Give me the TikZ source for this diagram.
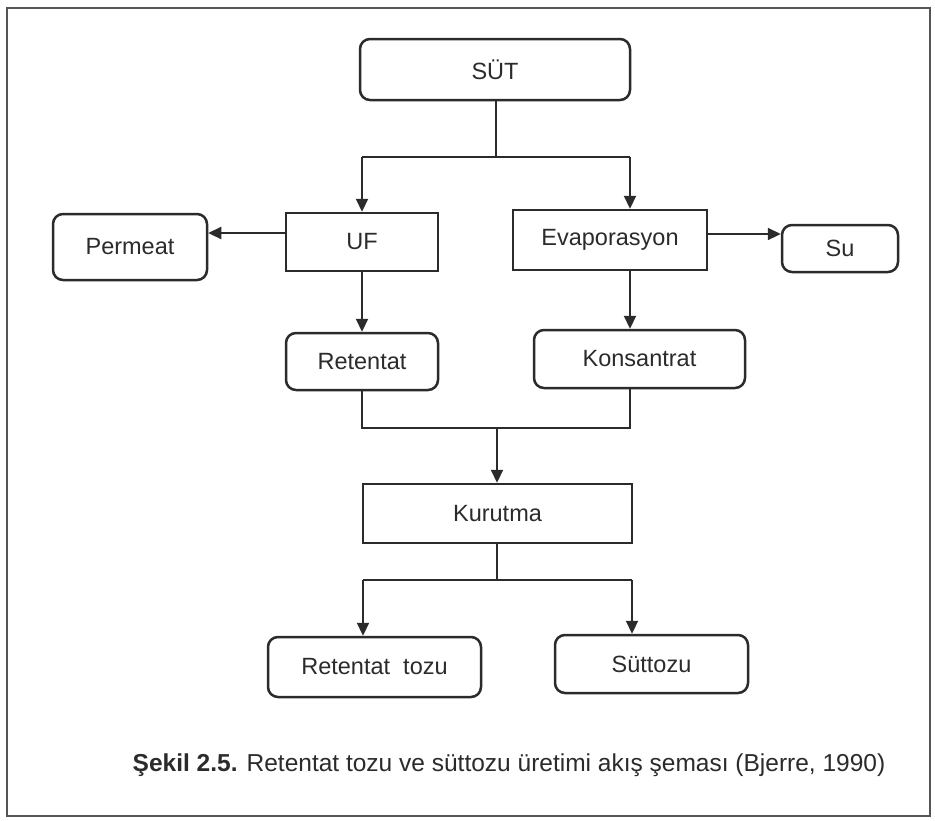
\documentclass[tikz,border=0pt]{standalone}
\usepackage{fontspec}
\setmainfont{Liberation Sans}
\usetikzlibrary{arrows.meta}
\definecolor{ink}{HTML}{2B2B2B}
\begin{document}
\begin{tikzpicture}[x=1pt,y=-1pt,
  every node/.style={font=\fontsize{23.5}{28}\selectfont, text=ink},
  box/.style={draw=ink, line width=2.5pt, inner sep=0pt, fill=white},
  rbox/.style={box, rounded corners=10pt},
  link/.style={draw=ink, line width=2.2pt},
  flow/.style={link, -{Triangle[length=13pt,width=12pt]}}]
  \useasboundingbox (0,0) rectangle (935,820);
  \fill[white] (0,0) rectangle (935,820);
  % outer frame
  \draw[line width=2.5pt, draw=ink!80] (7,8) rectangle (930,816);

  % process boxes
  \node[rbox, minimum width=270pt, minimum height=61pt] (sut)  at (495,69.5) {SÜT};
  \node[box,  minimum width=152pt, minimum height=58pt] (uf)   at (362,242)  {UF};
  \node[rbox, minimum width=154pt, minimum height=66pt] (perm) at (130,247)  {Permeat};
  \node[box,  minimum width=194pt, minimum height=60pt] (evap) at (610,240)  {Evaporasyon};
  \node[rbox, minimum width=116pt, minimum height=47pt] (su)   at (840,248.5){Su};
  \node[rbox, minimum width=152pt, minimum height=57pt] (ret)  at (362,361.5){Retentat};
  \node[rbox, minimum width=211pt, minimum height=58pt] (kons) at (639.5,359){Konsantrat};
  \node[box,  minimum width=269pt, minimum height=59pt] (kur)  at (497.5,513.5){Kurutma};
  \node[rbox, minimum width=213pt, minimum height=60pt] (rtoz) at (374.5,667){Retentat\ \ tozu};
  \node[rbox, minimum width=193pt, minimum height=58pt] (stoz) at (651.5,664){Süttozu};

  % junction points
  \coordinate (j1) at (496,157);
  \coordinate (eb) at (630,157);
  \coordinate (j2) at (497,428);
  \coordinate (j3) at (497,580);
  \coordinate (bl) at (363,580);
  \coordinate (br) at (632,580);

  % milk splits into UF and evaporation
  \draw[link] (sut.south -| j1) -- (j1);
  \draw[link] (uf.north |- j1) -- (eb);
  \draw[flow] (uf.north |- j1) -- (uf.north);
  \draw[flow] (eb) -- (eb |- evap.north);

  % side streams
  \draw[flow] ([yshift=9pt]uf.west) -- ([yshift=9pt]uf.west -| perm.east);
  \draw[flow] ([yshift=6pt]evap.east) -- ([yshift=6pt]evap.east -| su.west);

  % concentrates
  \draw[flow] (uf.south) -- (ret.north);
  \draw[flow] (eb |- evap.south) -- (eb |- kons.north);

  % to drying
  \draw[link] (ret.south) -- (ret.south |- j2) -- (eb |- j2) -- (eb |- kons.south);
  \draw[flow] (j2) -- (j2 |- kur.north);

  % powders
  \draw[link] (j2 |- kur.south) -- (j3);
  \draw[link] (bl) -- (br);
  \draw[flow] (bl) -- (bl |- rtoz.north);
  \draw[flow] (br) -- (br |- stoz.north);

  % caption
  \node[font=\fontsize{24.5}{29}\selectfont] (cap) at (509,765)
    {\textbf{Şekil 2.5.} Retentat tozu ve süttozu üretimi akış şeması (Bjerre, 1990)};
\end{tikzpicture}
\end{document}
